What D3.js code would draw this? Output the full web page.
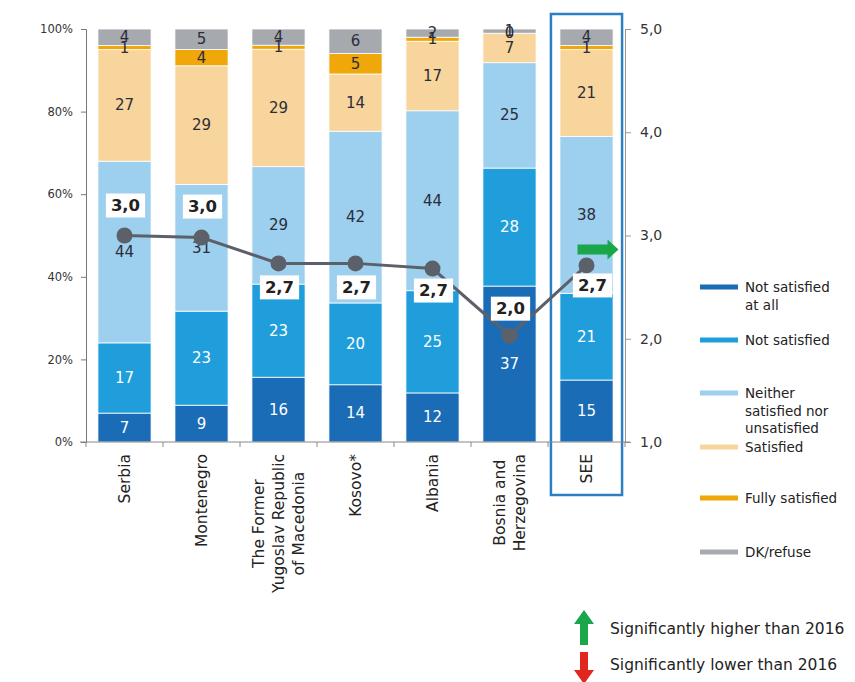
<!DOCTYPE html>
<html>
<head>
<meta charset="utf-8">
<script src="https://cdn.jsdelivr.net/npm/d3@7"></script>
<style>
  html, body { margin: 0; padding: 0; background: #fff; }
  svg { display: block; font-family: "DejaVu Sans", sans-serif; }
</style>
</head>
<body>
<svg id="chart" width="855" height="682"></svg>
<script>
// ---- data ----
const categories = ["Serbia", "Montenegro", "The Former\nYugoslav Republic\nof Macedonia", "Kosovo*", "Albania", "Bosnia and\nHerzegovina", "SEE"];
const seriesNames = ["Not satisfied at all", "Not satisfied", "Neither satisfied nor unsatisfied", "Satisfied", "Fully satisfied", "DK/refuse"];
const notSatisfiedAtAll = [7, 9, 16, 14, 12, 37, 15];
const notSatisfied      = [17, 23, 23, 20, 25, 28, 21];
const neither           = [44, 31, 29, 42, 44, 25, 38];
const satisfied         = [27, 29, 29, 14, 17, 7, 21];
const fullySatisfied    = [1, 4, 1, 5, 1, 0, 1];
const dkRefuse          = [4, 5, 4, 6, 2, 1, 4];
const meanScore         = [3.0, 2.98, 2.73, 2.73, 2.68, 2.03, 2.71];
const leftTicks  = [0, 20, 40, 60, 80, 100];
const rightTicks = [1, 2, 3, 4, 5];
const sigLegend = ["Significantly higher than 2016", "Significantly lower than 2016"];

const series = [notSatisfiedAtAll, notSatisfied, neither, satisfied, fullySatisfied, dkRefuse];
const colors = ["#1b6cb6", "#1f9edb", "#9dcfee", "#f8d59c", "#f0a70a", "#a6a9ae"];
const textColors = ["#ffffff", "#ffffff", "#2b2d3a", "#2b2d3a", "#2b2d3a", "#2b2d3a"];

const svg = d3.select("#chart");

const x = d3.scaleBand().domain(categories).range([86, 625]).paddingInner(0.31).paddingOuter(0.155);
const y = d3.scaleLinear().domain([0, 100]).range([442, 29]);
const y2 = d3.scaleLinear().domain([1, 5]).range([442, 29]);

// build normalized stacks (100% stacked)
const rows = categories.map((c, i) => {
  const vals = series.map(s => s[i]);
  const tot = d3.sum(vals);
  let acc = 0;
  return vals.map((v, k) => {
    const y0 = acc / tot * 100; acc += v; const y1 = acc / tot * 100;
    return { cat: c, k, v, y0, y1 };
  });
});

// SEE highlight box
svg.append("rect")
  .attr("x", x("SEE") - 9).attr("y", 14)
  .attr("width", x.bandwidth() + 18).attr("height", 481)
  .attr("fill", "none").attr("stroke", "#2c7fc3").attr("stroke-width", 2.5);

// bars
const gBars = svg.append("g");
rows.forEach(r => {
  gBars.selectAll(null).data(r).enter().append("rect")
    .attr("x", d => x(d.cat))
    .attr("width", x.bandwidth())
    .attr("y", d => y(d.y1))
    .attr("height", d => Math.max(0, y(d.y0) - y(d.y1)))
    .attr("fill", d => colors[d.k])
    .attr("stroke", "#fff").attr("stroke-width", 0.8);
});

// left axis
const axL = svg.append("g").attr("transform", "translate(86,0)")
  .call(d3.axisLeft(y).tickValues(leftTicks).tickFormat(d => d + "%").tickSize(5).tickPadding(8));
axL.select(".domain").attr("stroke", "#777");
axL.selectAll(".tick line").attr("stroke", "#777");
axL.selectAll("text").attr("font-size", 11.5).attr("fill", "#333").attr("font-family", "DejaVu Sans");

// right axis
const axR = svg.append("g").attr("transform", "translate(625,0)")
  .call(d3.axisRight(y2).tickValues(rightTicks).tickFormat(d => d3.format(".1f")(d).replace(".", ",")).tickSize(6).tickPadding(9));
axR.select(".domain").attr("stroke", "#999");
axR.selectAll(".tick line").attr("stroke", "#999");
axR.selectAll("text").attr("font-size", 14).attr("fill", "#333").attr("font-family", "DejaVu Sans");

// x axis baseline with ticks at band boundaries
const gx = svg.append("g");
gx.append("line").attr("x1", 80).attr("x2", 630).attr("y1", 442).attr("y2", 442).attr("stroke", "#888");
const bounds = categories.map(c => x(c) - x.step() * x.paddingInner() / 2);
bounds.push(625);
gx.selectAll(null).data(bounds).enter().append("line")
  .attr("x1", d => d).attr("x2", d => d).attr("y1", 442).attr("y2", 447).attr("stroke", "#888");

// segment labels
rows.forEach(r => {
  gBars.selectAll(null).data(r).enter().append("text")
    .attr("x", d => x(d.cat) + x.bandwidth() / 2)
    .attr("y", d => (y(d.y0) + y(d.y1)) / 2)
    .attr("text-anchor", "middle").attr("dominant-baseline", "central")
    .attr("font-size", 15).attr("fill", d => textColors[d.k])
    .text(d => d.v);
});

// category labels (rotated)
categories.forEach(c => {
  const lines = c.split("\n");
  const g = svg.append("g").attr("transform", `translate(${x(c) + x.bandwidth() / 2},454) rotate(-90)`);
  const texts = lines.map((ln, i) => g.append("text")
    .attr("font-size", 15.5).attr("fill", "#222")
    .attr("text-anchor", "middle").attr("dominant-baseline", "central")
    .attr("y", (i - (lines.length - 1) / 2) * 20)
    .text(ln));
  const maxLen = d3.max(texts, t => t.node().getComputedTextLength());
  texts.forEach(t => t.attr("x", -maxLen / 2));
});

// mean line
const pts = categories.map((c, i) => [x(c) + x.bandwidth() / 2, y2(meanScore[i])]);
svg.append("path").attr("d", d3.line()(pts)).attr("fill", "none").attr("stroke", "#5c6169").attr("stroke-width", 3);
svg.selectAll(null).data(pts).enter().append("circle")
  .attr("cx", d => d[0]).attr("cy", d => d[1]).attr("r", 8).attr("fill", "#5c6169");

// green right arrow on SEE
const sx = x("SEE") + x.bandwidth() / 2;
const ay = y2(meanScore[6]) - 16;
svg.append("path")
  .attr("d", `M${sx - 9},${ay - 5} L${sx + 21},${ay - 5} L${sx + 21},${ay - 10} L${sx + 32},${ay} L${sx + 21},${ay + 10} L${sx + 21},${ay + 5} L${sx - 9},${ay + 5} Z`)
  .attr("fill", "#1aa64a");

// mean labels
const labelOffsets = [-30, -31, 24, 24, 22, -27, 20];
categories.forEach((c, i) => {
  const cx = pts[i][0] + (i === 6 ? 6 : 1);
  const cy = pts[i][1] + labelOffsets[i];
  const g = svg.append("g");
  const t = g.append("text").attr("x", cx).attr("y", cy)
    .attr("text-anchor", "middle").attr("dominant-baseline", "central")
    .attr("font-size", 16.5).attr("font-weight", "bold").attr("fill", "#222")
    .text(d3.format(".1f")(meanScore[i]).replace(".", ","));
  const w = t.node().getComputedTextLength() + 10;
  g.insert("rect", "text").attr("x", cx - w / 2).attr("y", cy - 12).attr("width", w).attr("height", 24).attr("fill", "#fff");
});

// legend
const legY = [287, 340, 393, 447, 498, 552];
const legLines = [["Not satisfied", "at all"], ["Not satisfied"], ["Neither", "satisfied nor", "unsatisfied"], ["Satisfied"], ["Fully satisfied"], ["DK/refuse"]];
const gl = svg.append("g");
seriesNames.forEach((n, i) => {
  gl.append("line").attr("x1", 700).attr("x2", 738).attr("y1", legY[i]).attr("y2", legY[i])
    .attr("stroke", colors[i]).attr("stroke-width", 5);
  legLines[i].forEach((ln, j) => {
    gl.append("text").attr("x", 745).attr("y", legY[i] + j * 17.5)
      .attr("dominant-baseline", "central").attr("font-size", 13.5).attr("fill", "#222").text(ln);
  });
});

// significance legend
const ga = svg.append("g");
ga.append("path").attr("d", "M584,610 L594,624 L588,624 L588,645 L580,645 L580,624 L574,624 Z").attr("fill", "#1aa64a");
ga.append("path").attr("d", "M580,652 L588,652 L588,670 L594,670 L584,684 L574,670 L580,670 Z").attr("fill", "#e0261f");
ga.append("text").attr("x", 610).attr("y", 629).attr("dominant-baseline", "central").attr("font-size", 15.5).attr("fill", "#222").text(sigLegend[0]);
ga.append("text").attr("x", 610).attr("y", 665).attr("dominant-baseline", "central").attr("font-size", 15.5).attr("fill", "#222").text(sigLegend[1]);
</script>
</body>
</html>
